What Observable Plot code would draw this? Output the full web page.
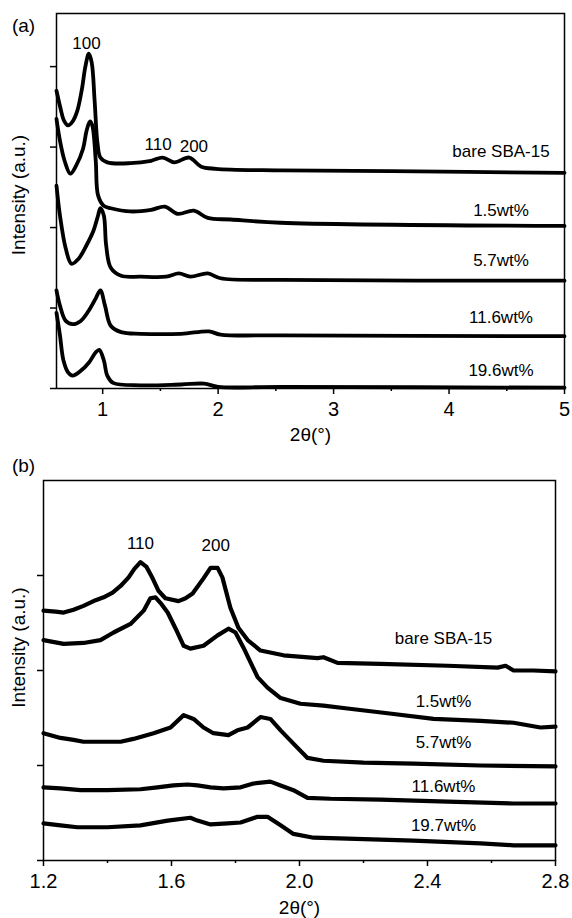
<!DOCTYPE html>
<html><head><meta charset="utf-8">
<script src="https://cdn.jsdelivr.net/npm/d3@7"></script>
<script src="https://cdn.jsdelivr.net/npm/@observablehq/plot@0.6"></script>
<style>body{margin:0;background:#fff;} #c svg{display:block;}</style>
</head><body><div id="c"></div>
<script>
const FONT = "'Liberation Sans', Arial, Helvetica, sans-serif";

// ---------- Panel (a): 2θ 0.6–5 ----------
const aNames = ["bare SBA-15", "1.5wt%", "5.7wt%", "11.6wt%", "19.6wt%"];
const aBare = [[0.60,3.70],[0.635,3.48],[0.665,3.33],[0.70,3.27],[0.74,3.32],[0.78,3.45],[0.82,3.72],[0.85,4.00],[0.88,4.16],[0.905,4.05],[0.93,3.58],[0.955,3.05],[0.98,2.87],[1.04,2.81],[1.24,2.80],[1.42,2.83],[1.52,2.87],[1.62,2.81],[1.75,2.87],[1.85,2.76],[1.98,2.73],[2.54,2.71],[3.5,2.70],[5.0,2.68]];
const a15 = [[0.60,3.35],[0.63,3.08],[0.67,2.83],[0.72,2.67],[0.77,2.77],[0.83,2.98],[0.86,3.20],[0.89,3.32],[0.91,3.27],[0.94,2.83],[0.96,2.40],[1.01,2.27],[1.07,2.24],[1.24,2.20],[1.42,2.22],[1.54,2.26],[1.65,2.17],[1.79,2.21],[1.91,2.12],[2.11,2.10],[2.54,2.06],[5.0,2.02]];
const a57 = [[0.60,2.52],[0.63,2.15],[0.68,1.74],[0.73,1.55],[0.79,1.61],[0.86,1.78],[0.92,1.96],[0.96,2.15],[0.98,2.24],[1.01,2.15],[1.03,1.78],[1.07,1.50],[1.16,1.40],[1.33,1.39],[1.55,1.39],[1.66,1.43],[1.76,1.39],[1.91,1.43],[2.02,1.37],[2.54,1.35],[5.0,1.34]];
const a116 = [[0.60,1.22],[0.63,1.03],[0.68,0.84],[0.74,0.80],[0.81,0.84],[0.88,0.97],[0.94,1.12],[0.98,1.22],[1.02,1.03],[1.07,0.78],[1.16,0.70],[1.33,0.68],[1.68,0.68],[1.92,0.71],[2.02,0.67],[2.54,0.66],[5.0,0.65]];
const a196 = [[0.60,0.94],[0.63,0.66],[0.66,0.35],[0.70,0.20],[0.74,0.16],[0.81,0.22],[0.88,0.32],[0.94,0.45],[0.97,0.48],[1.01,0.35],[1.04,0.16],[1.09,0.07],[1.33,0.04],[1.68,0.05],[1.88,0.06],[2.00,0.02],[2.54,0.02],[5.0,0.01]];
const aLabelX = 4.45;
const aLabelY = [2.94, 2.21, 1.59, 0.88, 0.22];
const aPeakText = ["100", "110", "200"];
const aPeakX = [0.86, 1.48, 1.79];
const aPeakY = [4.29, 3.03, 3.01];
const aXTicks = [1, 2, 3, 4, 5];
const aXMinor = [1.5, 2.5, 3.5, 4.5];
const aYTicks = [0, 1, 2, 3, 4];

// ---------- Panel (b): 2θ 1.2–2.8 ----------
const bNames = ["bare SBA-15", "1.5wt%", "5.7wt%", "11.6wt%", "19.7wt%"];
const bBare = [[1.200,2.63],[1.238,2.62],[1.263,2.61],[1.294,2.64],[1.325,2.68],[1.363,2.74],[1.388,2.77],[1.416,2.82],[1.441,2.89],[1.466,2.98],[1.484,3.07],[1.503,3.14],[1.522,3.09],[1.541,2.97],[1.559,2.84],[1.581,2.76],[1.622,2.73],[1.644,2.76],[1.666,2.81],[1.700,2.97],[1.722,3.08],[1.744,3.08],[1.759,2.98],[1.784,2.66],[1.809,2.45],[1.838,2.32],[1.878,2.21],[1.950,2.16],[2.056,2.13],[2.075,2.14],[2.119,2.08],[2.253,2.07],[2.463,2.05],[2.619,2.03],[2.644,2.05],[2.669,2.00],[2.731,2.00],[2.800,1.99]];
const b15 = [[1.200,2.32],[1.263,2.28],[1.325,2.29],[1.378,2.32],[1.419,2.40],[1.472,2.49],[1.513,2.63],[1.534,2.76],[1.550,2.77],[1.566,2.71],[1.588,2.61],[1.613,2.44],[1.638,2.26],[1.659,2.23],[1.700,2.26],[1.744,2.37],[1.778,2.44],[1.800,2.40],[1.825,2.24],[1.869,1.93],[1.900,1.82],[1.941,1.71],[2.003,1.65],[2.075,1.63],[2.150,1.60],[2.275,1.55],[2.419,1.49],[2.566,1.47],[2.669,1.45],[2.753,1.40],[2.800,1.41]];
const b57 = [[1.200,1.34],[1.253,1.29],[1.294,1.27],[1.325,1.25],[1.400,1.25],[1.441,1.25],[1.481,1.28],[1.544,1.34],[1.597,1.40],[1.638,1.53],[1.669,1.49],[1.700,1.40],[1.731,1.34],[1.778,1.32],[1.806,1.37],[1.838,1.40],[1.878,1.51],[1.909,1.49],[1.941,1.37],[1.981,1.23],[2.025,1.08],[2.075,1.05],[2.200,1.03],[2.356,1.02],[2.566,1.00],[2.800,0.99]];
const b116 = [[1.200,0.77],[1.253,0.76],[1.316,0.74],[1.400,0.74],[1.503,0.75],[1.556,0.77],[1.606,0.79],[1.650,0.80],[1.681,0.79],[1.722,0.77],[1.763,0.76],[1.816,0.77],[1.856,0.81],[1.909,0.83],[1.941,0.79],[1.981,0.74],[2.025,0.66],[2.097,0.65],[2.253,0.64],[2.463,0.62],[2.669,0.60],[2.800,0.60]];
const b197 = [[1.200,0.39],[1.253,0.37],[1.306,0.35],[1.400,0.35],[1.503,0.37],[1.588,0.42],[1.659,0.45],[1.681,0.42],[1.722,0.38],[1.775,0.39],[1.816,0.40],[1.869,0.46],[1.900,0.46],[1.941,0.37],[1.981,0.28],[2.044,0.24],[2.150,0.23],[2.356,0.21],[2.566,0.18],[2.669,0.16],[2.800,0.16]];
const bLabelX = 2.45;
const bLabelY = [2.34, 1.67, 1.24, 0.78, 0.37];
const bPeakText = ["110", "200"];
const bPeakX = [1.503, 1.738];
const bPeakY = [3.34, 3.32];
const bXTicks = [1.2, 1.6, 2.0, 2.4, 2.8];
const bXMinor = [1.4, 1.8, 2.2, 2.6];
const bYTicks = [0, 1, 2, 3];

function panel(o) {
  const rows = o.series.flatMap((pts, i) => pts.map(([x, y]) => ({s: o.names[i], x, y})));
  const lab = o.names.map((t, i) => ({t, x: o.labelX, y: o.labelY[i]}));
  const pk = o.peakText.map((t, i) => ({t, x: o.peakX[i], y: o.peakY[i]}));
  return Plot.plot({
    width: 572, height: o.height,
    marginTop: o.mt, marginLeft: o.ml, marginRight: o.mr, marginBottom: o.mb,
    x: {domain: o.xDomain, label: null},
    y: {domain: o.yDomain, label: null},
    style: {fontFamily: FONT, fontSize: "20px", color: "#000", background: "#fff", overflow: "visible"},
    marks: [
      Plot.axisX({ticks: o.xTicks, tickSize: 6, tickPadding: 7, tickFormat: o.fmt, strokeWidth: 1.5, fontSize: 20, label: null}),
      Plot.axisX({ticks: o.xMinor, tickSize: 3, tickFormat: () => "", strokeWidth: 1.5, label: null}),
      Plot.axisY({ticks: o.yTicks, tickSize: 6, tickFormat: () => "", strokeWidth: 1.5, label: null}),
      Plot.frame({stroke: "#000", strokeWidth: 1.5}),
      Plot.line(rows, {x: "x", y: "y", z: "s", stroke: "#000", strokeWidth: o.sw, curve: o.curve, strokeLinejoin: "round", strokeLinecap: "round"}),
      Plot.text(lab, {x: "x", y: "y", text: "t", fontSize: 17, textAnchor: "middle", lineAnchor: "middle", fill: "#000"}),
      Plot.text(pk, {x: "x", y: "y", text: "t", fontSize: 17, textAnchor: "middle", lineAnchor: "middle", fill: "#000"}),
      Plot.text([o.tag], {frameAnchor: "top-left", dx: o.tagDx, dy: o.tagDy, fontSize: 19, textAnchor: "middle", lineAnchor: "middle", fill: "#000"}),
      Plot.text(["Intensity (a.u.)"], {frameAnchor: "left", rotate: -90, dx: o.ylDx, dy: o.ylDy, fontSize: 19, textAnchor: "middle", lineAnchor: "middle", fill: "#000"}),
      Plot.text(["2θ(°)"], {frameAnchor: "bottom", dy: o.xlDy, fontSize: 19, textAnchor: "middle", lineAnchor: "middle", fill: "#000"})
    ]
  });
}

const c = document.getElementById("c");
c.append(panel({
  names: aNames, series: [aBare, a15, a57, a116, a196],
  labelX: aLabelX, labelY: aLabelY, peakText: aPeakText, peakX: aPeakX, peakY: aPeakY,
  xDomain: [0.6, 5], yDomain: [0, 4.66], xTicks: aXTicks, xMinor: aXMinor, yTicks: aYTicks,
  fmt: d3.format("d"), height: 450, mt: 13, ml: 56, mr: 8, mb: 62,
  sw: 3.8, curve: "catmull-rom", tag: "(a)", tagDx: -33, tagDy: 12,
  ylDx: -38, ylDy: -6, xlDy: 46
}));
c.append(panel({
  names: bNames, series: [bBare, b15, b57, b116, b197],
  labelX: bLabelX, labelY: bLabelY, peakText: bPeakText, peakX: bPeakX, peakY: bPeakY,
  xDomain: [1.2, 2.8], yDomain: [0, 4], xTicks: bXTicks, xMinor: bXMinor, yTicks: bYTicks,
  fmt: d3.format(".1f"), height: 468, mt: 30, ml: 43, mr: 17, mb: 58,
  sw: 4.2, curve: "linear", tag: "(b)", tagDx: -20, tagDy: -15,
  ylDx: -25, ylDy: -23, xlDy: 47
}));
</script></body></html>
